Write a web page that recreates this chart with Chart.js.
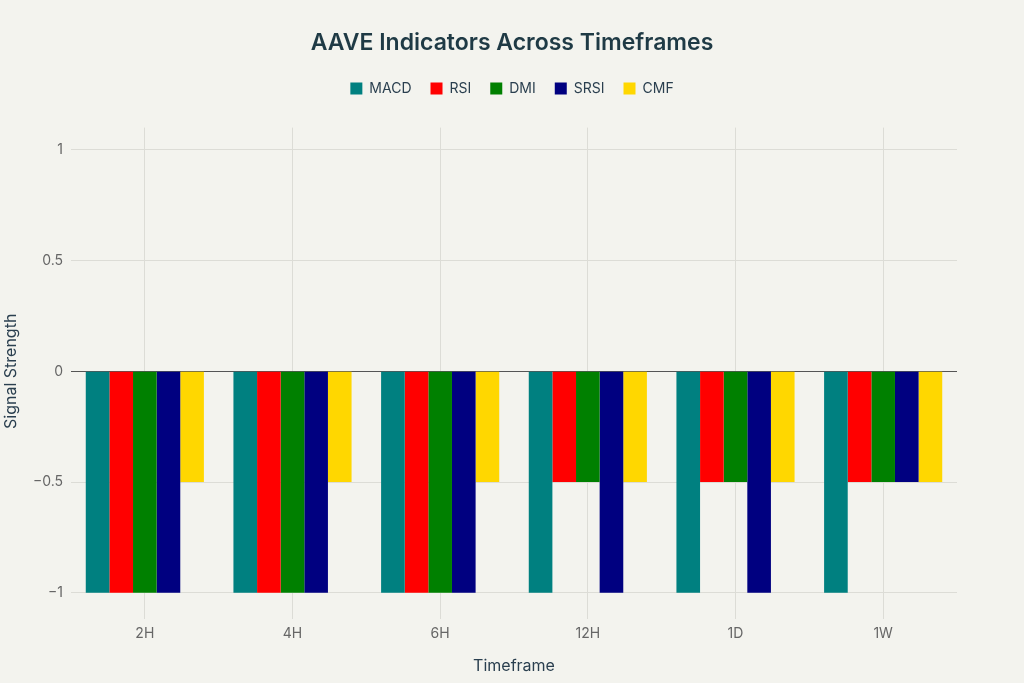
<!DOCTYPE html>
<html>
<head>
<meta charset="utf-8">
<script src="https://cdn.jsdelivr.net/npm/chart.js@4.4.1/dist/chart.umd.min.js"></script>
<style>
  html, body { margin: 0; padding: 0; background: #f3f3ee; }
  #wrap { width: 1024px; height: 683px; }
</style>
</head>
<body>
<div id="wrap"><canvas id="myChart" width="1024" height="683"></canvas></div>
<script>
const timeframes = ['2H', '4H', '6H', '12H', '1D', '1W'];
const macd = [-1, -1, -1, -1, -1, -1];
const rsi  = [-1, -1, -1, -0.5, -0.5, -0.5];
const dmi  = [-1, -1, -1, -0.5, -0.5, -0.5];
const srsi = [-1, -1, -1, -1, -1, -0.5];
const cmf  = [-0.5, -0.5, -0.5, -0.5, -0.5, -0.5];
const yTicks = [-1, -0.5, 0, 0.5, 1];

const fontFamily = 'Inter, "Open Sans", sans-serif';
const ctx = document.getElementById('myChart').getContext('2d');

// paint the page colour behind the chart
const bgPlugin = {
    id: 'bg',
    beforeDraw(chart) {
        const c = chart.ctx;
        c.save();
        c.fillStyle = '#f3f3ee';
        c.fillRect(0, 0, chart.width, chart.height);
        c.restore();
    }
};

// leave some room between the legend and the plot
const legendGap = {
    id: 'legendGap',
    beforeInit(chart) {
        const origFit = chart.legend.fit;
        chart.legend.fit = function () {
            origFit.bind(chart.legend)();
            this.height += 22;
        };
    }
};

function series(label, data, color) {
    return {
        label: label,
        data: data,
        backgroundColor: color,
        borderWidth: 0,
        categoryPercentage: 0.8,
        barPercentage: 1.0
    };
}

const myChart = new Chart(ctx, {
    type: 'bar',
    data: {
        labels: timeframes,
        datasets: [
            series('MACD', macd, '#008080'),
            series('RSI', rsi, '#ff0000'),
            series('DMI', dmi, '#008000'),
            series('SRSI', srsi, '#000080'),
            series('CMF', cmf, '#ffd700')
        ]
    },
    options: {
        responsive: false,
        animation: false,
        layout: { padding: { left: 0, right: 0, top: 24, bottom: 3 } },
        plugins: {
            title: {
                display: true,
                text: 'AAVE Indicators Across Timeframes',
                color: '#1f3a45',
                font: { family: fontFamily, size: 23, weight: '600' },
                padding: { top: 5, bottom: 6 }
            },
            legend: {
                display: true,
                labels: {
                    boxWidth: 12,
                    boxHeight: 12,
                    color: '#2a3f4f',
                    font: { family: fontFamily, size: 14 },
                    padding: 19
                }
            },
            tooltip: { enabled: false }
        },
        scales: {
            x: {
                grid: {
                    offset: false,
                    color: '#dcdcd6',
                    drawTicks: true,
                    tickLength: 4
                },
                border: { display: false },
                ticks: {
                    color: '#666',
                    font: { family: fontFamily, size: 14 },
                    padding: 6
                },
                title: {
                    display: true,
                    text: 'Timeframe',
                    color: '#2a3f4f',
                    font: { family: fontFamily, size: 16 },
                    padding: { top: 9 }
                }
            },
            y: {
                min: -1.1,
                max: 1.1,
                afterBuildTicks(scale) {
                    scale.ticks = yTicks.map(v => ({ value: v }));
                },
                afterFit(scale) {
                    scale.width = 71;
                },
                grid: {
                    color: c => (c.tick && c.tick.value === 0) ? '#555555' : '#dcdcd6',
                    drawTicks: false
                },
                border: { display: false },
                ticks: {
                    color: '#666',
                    font: { family: fontFamily, size: 14 },
                    padding: 8,
                    callback: v => (v < 0 ? '\u2212' + Math.abs(v) : String(v))
                },
                title: {
                    display: true,
                    text: 'Signal Strength',
                    color: '#2a3f4f',
                    font: { family: fontFamily, size: 16 },
                    padding: { top: 2, bottom: 10 }
                }
            },
            // empty axis that only keeps the right margin
            yRight: {
                position: 'right',
                display: true,
                min: -1.1,
                max: 1.1,
                grid: { display: false },
                border: { display: false },
                ticks: { display: false },
                afterFit(scale) {
                    scale.width = 67;
                }
            }
        }
    },
    plugins: [bgPlugin, legendGap]
});
</script>
</body>
</html>
